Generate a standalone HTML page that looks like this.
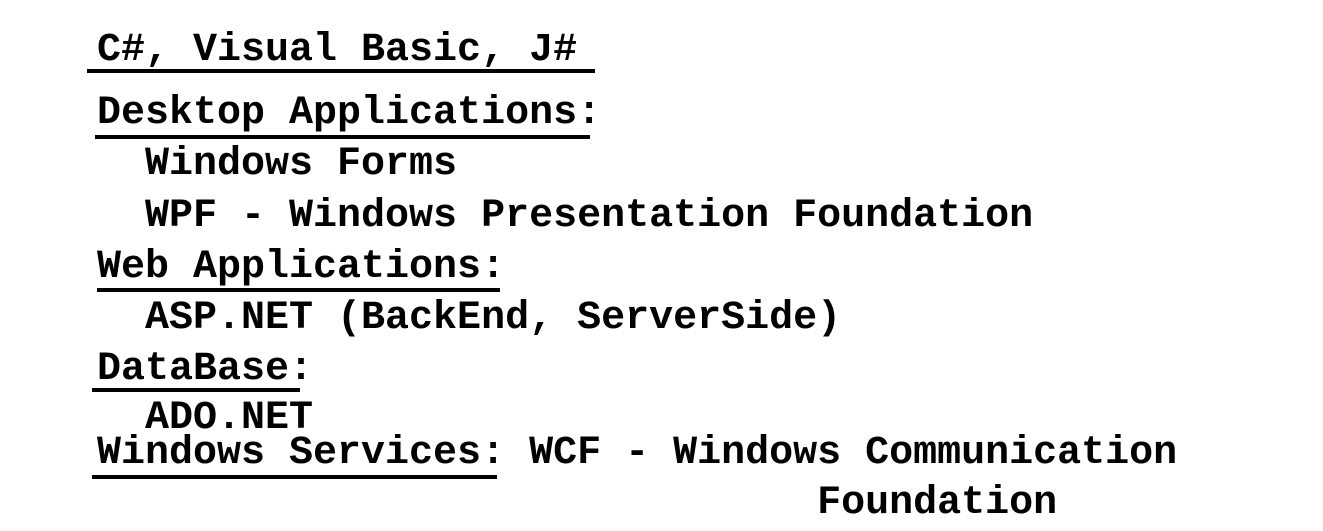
<!DOCTYPE html>
<html><head><meta charset="utf-8"><style>
body{margin:0;width:1323px;height:531px;background:#fff;position:relative;overflow:hidden}
.t{position:absolute;font-family:"Liberation Mono",monospace;font-weight:bold;font-size:40px;line-height:40px;white-space:pre;color:#000;letter-spacing:0}
.u{position:absolute;height:4px;background:#000}
</style></head><body>
<div class="t" style="left:97px;top:31px">C#, Visual Basic, J#</div>
<div class="u" style="left:87px;top:69px;width:508px"></div>
<div class="t" style="left:97px;top:94px">Desktop Applications:</div>
<div class="u" style="left:95px;top:135px;width:495px"></div>
<div class="t" style="left:97px;top:145px">  Windows Forms</div>
<div class="t" style="left:97px;top:197px">  WPF - Windows Presentation Foundation</div>
<div class="t" style="left:97px;top:248px">Web Applications:</div>
<div class="u" style="left:97px;top:288px;width:403px"></div>
<div class="t" style="left:97px;top:299px">  ASP.NET (BackEnd, ServerSide)</div>
<div class="t" style="left:97px;top:350px">DataBase:</div>
<div class="u" style="left:92px;top:388px;width:208px"></div>
<div class="t" style="left:97px;top:399px">  ADO.NET</div>
<div class="t" style="left:97px;top:434px">Windows Services: WCF - Windows Communication</div>
<div class="u" style="left:92px;top:475px;width:405px"></div>
<div class="t" style="left:97px;top:484px">                              Foundation</div>
</body></html>
